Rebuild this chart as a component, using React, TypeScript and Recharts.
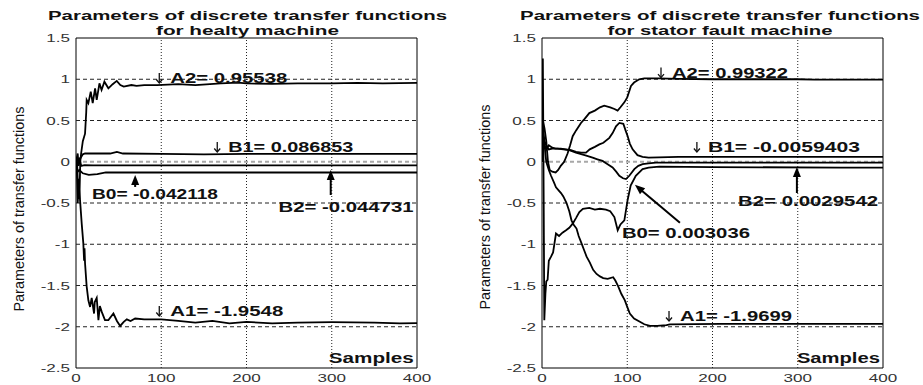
import React from "react";
import {
  LineChart,
  Line,
  XAxis,
  YAxis,
  ReferenceLine,
  ReferenceArea,
  ReferenceDot,
} from "recharts";

type Pt = [number, number];

const xTicks = [0, 100, 200, 300, 400];
const yTicks = [1.5, 1, 0.5, 0, -0.5, -1, -1.5, -2, -2.5];

// healthy machine: [sample, value]
const healthyA2: Pt[] = [
  [0, 0], [1, -0.1], [2, -0.5], [3, -0.3], [4, -0.45], [5, 0], [6, 0.1], [8, 0.25],
  [10.6, 0.34], [12, 0.6], [12.5, 0.75], [14.5, 0.71], [17.3, 0.85], [19.6, 0.71],
  [22.4, 0.89], [24.3, 0.75], [27.5, 0.95], [30, 0.87], [33.3, 0.97], [38, 0.89],
  [43, 0.94], [47.8, 0.98], [52, 0.93], [56, 0.91], [65, 0.93], [71, 0.92], [80, 0.93],
  [95, 0.93], [120, 0.94], [140, 0.93], [170, 0.95], [190, 0.96], [200, 0.95],
  [230, 0.945], [260, 0.95], [300, 0.95], [330, 0.955], [360, 0.95], [400, 0.955],
];
const healthyB1: Pt[] = [
  [0, 0], [2, 0.1], [3, -0.05], [5, 0.04], [8, 0.09], [10.6, 0.1], [20, 0.1], [40, 0.1],
  [48, 0.12], [55, 0.1], [100, 0.095], [150, 0.09], [200, 0.095], [300, 0.095], [400, 0.095],
];
const healthyB2: Pt[] = [
  [0, 0], [2, -0.03], [4, 0.05], [6, -0.05], [10, -0.04], [20, -0.045], [50, -0.045],
  [100, -0.045], [200, -0.045], [400, -0.045],
];
const healthyB0: Pt[] = [
  [0, 0], [2, -0.12], [4, -0.1], [8, -0.14], [15, -0.16], [25, -0.15], [35, -0.13],
  [100, -0.13], [200, -0.13], [400, -0.13],
];
const healthyA1: Pt[] = [
  [0, 0], [1, 0.05], [2, -0.2], [2.7, -0.22], [4.7, -0.46], [6.7, -0.75], [8.6, -0.99],
  [9.5, -1.2], [10, -1.05], [10.6, -1.23], [12.5, -1.51], [14.5, -1.68], [16.5, -1.76],
  [18.4, -1.65], [21.2, -1.84], [22, -1.7], [24.3, -1.65], [26.3, -1.92], [28, -1.75],
  [30.2, -1.82], [34, -1.92], [38, -1.92], [43.9, -1.84], [48, -1.93], [51.8, -1.99],
  [56, -1.94], [59.6, -1.91], [64, -1.93], [69.4, -1.9], [80, -1.91], [100, -1.91],
  [120, -1.93], [140, -1.95], [160, -1.93], [180, -1.96], [200, -1.94], [230, -1.96],
  [260, -1.95], [300, -1.945], [350, -1.95], [380, -1.96], [400, -1.955],
];

// stator fault machine: [sample, value]
const faultA2: Pt[] = [
  [0, 0], [1, 0.5], [3, 0.4], [5, 0.25], [7, 0], [9, -0.1], [12, -0.12], [16, -0.13],
  [19, -0.1], [22, -0.05], [26, 0], [30, 0.1], [33, 0.2], [36, 0.31], [40, 0.38],
  [45.7, 0.47], [50, 0.52], [55.5, 0.59], [62, 0.62], [68, 0.66], [73, 0.68], [80, 0.66],
  [85, 0.64], [88.7, 0.62], [92, 0.66], [96.6, 0.72], [100, 0.78], [104.4, 0.92],
  [108, 0.96], [114, 1.0], [120, 1.01], [137, 1.01], [160, 1.005], [200, 1.0],
  [300, 1.0], [320, 0.995], [400, 0.995],
];
const faultB1: Pt[] = [
  [0, 0], [1, 0.3], [3, 0.2], [5, 0.15], [8, 0.2], [12, 0.17], [16, 0.16], [22, 0.16],
  [28, 0.15], [34, 0.14], [40, 0.12], [46, 0.11], [51.6, 0.11], [56, 0.15], [62, 0.18],
  [67.3, 0.21], [72, 0.23], [79, 0.29], [83, 0.35], [86.8, 0.43], [90.7, 0.47],
  [95.4, 0.46], [98, 0.38], [100.5, 0.31], [103, 0.22], [106.3, 0.15], [112, 0.08],
  [118, 0.06], [125, 0.05], [160, 0.06], [200, 0.06], [300, 0.06], [400, 0.06],
];
const faultB2: Pt[] = [
  [0, 0], [1, 0.4], [3, 0.25], [5, 0.2], [8, 0.15], [12, 0.16], [18, 0.16], [25, 0.15],
  [32, 0.14], [39.8, 0.11], [50, 0.08], [59.4, 0.05], [65, 0.03], [71, 0.01], [77, -0.03],
  [82.8, -0.07], [87, -0.12], [90.7, -0.17], [95, -0.2], [98.5, -0.21], [102.4, -0.17],
  [108.3, -0.09], [113, -0.05], [118, -0.03], [125, -0.02], [133.7, -0.01], [200, -0.01],
  [300, -0.01], [400, -0.01],
];
const faultB0: Pt[] = [
  [0, 0], [1, 1.25], [2, -0.5], [2.7, -1.92], [4, -1.6], [5, -1.45], [6.6, -1.43],
  [8, -1.2], [10.6, -1.15], [13, -1.1], [16.4, -0.87], [20, -0.9], [24, -0.86],
  [28.2, -0.83], [32, -0.8], [36, -0.75], [40, -0.68], [43.8, -0.61], [48, -0.57],
  [55.5, -0.56], [62, -0.58], [68, -0.57], [75, -0.58], [80, -0.6], [84.9, -0.67],
  [88.8, -0.83], [92, -0.76], [96.6, -0.71], [100.5, -0.46], [104, -0.29], [110, -0.17],
  [118, -0.09], [125, -0.07], [137.6, -0.06], [200, -0.065], [350, -0.07], [400, -0.07],
];
const faultA1: Pt[] = [
  [0, 0], [1, 0.3], [3, 0.2], [5, 0], [8, -0.1], [10.6, -0.17], [14, -0.25], [16.4, -0.31],
  [19, -0.34], [22.3, -0.38], [25, -0.42], [28.8, -0.5], [32, -0.6], [34.6, -0.71],
  [37, -0.76], [40.5, -0.81], [43, -0.9], [46.4, -0.99], [49, -1.06], [52.3, -1.15],
  [56, -1.22], [60, -1.31], [64, -1.36], [68, -1.39], [71.8, -1.41], [77, -1.42],
  [83.5, -1.4], [86, -1.44], [89.4, -1.51], [93, -1.6], [97.2, -1.68], [100, -1.76],
  [103, -1.84], [108, -1.9], [114.8, -1.94], [120, -1.97], [126.6, -1.99], [135, -1.99],
  [146, -1.98], [150, -1.97], [210, -1.965], [300, -1.965], [400, -1.965],
];

const FONT = '"Liberation Sans", Arial, Helvetica, sans-serif';

function buildRows(series: Record<string, Pt[]>) {
  const map = new Map<number, Record<string, number>>();
  for (const [key, pts] of Object.entries(series)) {
    for (const [s, v] of pts) {
      const row = map.get(s) ?? { s };
      row[key] = v;
      map.set(s, row);
    }
  }
  return [...map.values()].sort((a, b) => a.s - b.s);
}

type Note = { s: number; v: number; text: string; len: number; down?: boolean };
type Arrow = { s: number; v: number; dx: number; dy: number };

const healthyNotes: Note[] = [
  { s: 93, v: 0.955, text: "A2= 0.95538", len: 132, down: true },
  { s: 161, v: 0.118, text: "B1= 0.086853", len: 140, down: true },
  { s: 18.8, v: -0.452, text: "B0= -0.042118", len: 126 },
  { s: 237.6, v: -0.61, text: "B2= -0.044731", len: 135 },
  { s: 93, v: -1.87, text: "A1= -1.9548", len: 128, down: true },
  { s: 296.5, v: -2.44, text: "Samples", len: 85 },
];
const healthyArrows: Arrow[] = [
  { s: 69.4, v: -0.16, dx: 0, dy: 12 },
  { s: 298.8, v: -0.1, dx: 0, dy: 25 },
];
const faultNotes: Note[] = [
  { s: 134.9, v: 1.02, text: "A2= 0.99322", len: 131, down: true },
  { s: 177, v: 0.118, text: "B1= -0.0059403", len: 167, down: true },
  { s: 230, v: -0.536, text: "B2= 0.0029542", len: 140 },
  { s: 93.8, v: -0.924, text: "B0= 0.003036", len: 128 },
  { s: 144.3, v: -1.93, text: "A1= -1.9699", len: 127, down: true },
  { s: 299, v: -2.44, text: "Samples", len: 83 },
];
const faultArrows: Arrow[] = [
  { s: 299, v: -0.064, dx: 0, dy: 26 },
  { s: 109, v: -0.28, dx: 45, dy: 38 },
];

function XTick({ x, y, payload }: any) {
  return (
    <g transform={`translate(${x},${y + 14}) scale(1.55,1)`}>
      <text textAnchor="middle" fontSize={11} fontFamily={FONT} fill="#333">
        {payload.value}
      </text>
    </g>
  );
}

function YTick({ x, y, payload }: any) {
  return (
    <g transform={`translate(${x - 6},${y + 4}) scale(1.55,1)`}>
      <text textAnchor="end" fontSize={11} fontFamily={FONT} fill="#333">
        {payload.value}
      </text>
    </g>
  );
}

function ArrowShape({ cx, cy, dx, dy }: any) {
  const ang = (Math.atan2(dy, dx) * 180) / Math.PI - 90;
  return (
    <g transform={`translate(${cx},${cy}) rotate(${ang})`}>
      <line x1={0} y1={6} x2={0} y2={Math.hypot(dx, dy)} stroke="#000" strokeWidth={2} />
      <polygon points="0,0 -4,10 4,10" fill="#000" />
    </g>
  );
}

// small down arrow in front of a label, like matlab's \downarrow
function NoteShape({ cx, cy, n }: any) {
  const off = n.down ? 15 : 0;
  return (
    <g>
      {n.down && (
        <g stroke="#111" strokeWidth={1.3} fill="none">
          <line x1={cx + 4} y1={cy - 10} x2={cx + 4} y2={cy} />
          <polyline points={`${cx + 1},${cy - 3.5} ${cx + 4},${cy} ${cx + 7},${cy - 3.5}`} />
        </g>
      )}
      <text
        x={cx + off}
        y={cy}
        textLength={n.len - off}
        lengthAdjust="spacingAndGlyphs"
        fontSize={14}
        fontWeight="bold"
        fontFamily={FONT}
        fill="#111"
      >
        {n.text}
      </text>
    </g>
  );
}

function Panel({ series, notes, arrows, mLeft, mRight }: any) {
  const rows = buildRows(series);
  const keys = Object.keys(series);
  const gridY = yTicks.filter((t) => t !== 0 && t !== 1.5 && t !== -2.5);
  const gridX = xTicks.filter((t) => t !== 0 && t !== 400);
  return (
    <LineChart
      width={mLeft + 40 + 341 + mRight}
      height={385}
      data={rows}
      margin={{ top: 38, left: mLeft, right: mRight, bottom: 0 }}
    >
      <XAxis
        dataKey="s"
        type="number"
        domain={[0, 400]}
        ticks={xTicks}
        height={17}
        axisLine={false}
        tickLine={false}
        tickSize={0}
        tickMargin={0}
        tick={XTick}
        allowDataOverflow
      />
      <YAxis
        type="number"
        domain={[-2.5, 1.5]}
        ticks={yTicks}
        width={40}
        axisLine={false}
        tickLine={false}
        tickSize={0}
        tickMargin={0}
        tick={YTick}
        allowDataOverflow
      />
      {gridY.map((t) => (
        <ReferenceLine key={"y" + t} y={t} stroke="#222" strokeDasharray="4 3" />
      ))}
      {gridX.map((t) => (
        <ReferenceLine key={"x" + t} x={t} stroke="#222" strokeDasharray="1 2" />
      ))}
      <ReferenceLine y={0} stroke="#a8a8a8" strokeWidth={2} strokeDasharray="4 3" />
      {keys.map((k) => (
        <Line
          key={k}
          dataKey={k}
          type="linear"
          stroke="#000"
          strokeWidth={1.8}
          dot={false}
          connectNulls
          isAnimationActive={false}
        />
      ))}
      <ReferenceArea
        x1={0}
        x2={400}
        y1={-2.5}
        y2={1.5}
        fill="none"
        fillOpacity={0}
        stroke="#000"
        strokeWidth={1}
      />
      {notes.map((n: Note) => (
        <ReferenceDot
          key={n.text}
          x={n.s}
          y={n.v}
          r={0}
          shape={(p: any) => <NoteShape cx={p.cx} cy={p.cy} n={n} />}
        />
      ))}
      {arrows.map((a: Arrow, i: number) => (
        <ReferenceDot
          key={"a" + i}
          x={a.s}
          y={a.v}
          r={0}
          shape={(p: any) => <ArrowShape cx={p.cx} cy={p.cy} dx={a.dx} dy={a.dy} />}
        />
      ))}
    </LineChart>
  );
}

function Title({ cx, lines }: { cx: number; lines: [string, number][] }) {
  return (
    <>
      {lines.map(([t, len], i) => (
        <text
          key={t}
          x={cx}
          y={20 + i * 14.5}
          textAnchor="middle"
          textLength={len}
          lengthAdjust="spacingAndGlyphs"
          fontSize={13}
          fontWeight="bold"
          fontFamily={FONT}
          fill="#111"
        >
          {t}
        </text>
      ))}
    </>
  );
}

function YLabel({ x, y }: { x: number; y: number }) {
  return (
    <text
      transform={`translate(${x},${y}) rotate(-90)`}
      textAnchor="middle"
      textLength={205}
      lengthAdjust="spacingAndGlyphs"
      fontSize={14}
      fontFamily={FONT}
      fill="#111"
    >
      Parameters of transfer functions
    </text>
  );
}

export default function App() {
  return (
    <div
      style={{
        position: "absolute",
        left: 0,
        top: 0,
        width: 923,
        height: 385,
        background: "#fff",
        overflow: "hidden",
      }}
    >
      <div style={{ position: "absolute", left: 0, top: 0 }}>
        <Panel
          series={{ A2: healthyA2, B1: healthyB1, B2: healthyB2, B0: healthyB0, A1: healthyA1 }}
          notes={healthyNotes}
          arrows={healthyArrows}
          mLeft={36}
          mRight={43}
        />
      </div>
      <div style={{ position: "absolute", left: 460, top: 0 }}>
        <Panel
          series={{ A2: faultA2, B1: faultB1, B2: faultB2, B0: faultB0, A1: faultA1 }}
          notes={faultNotes}
          arrows={faultArrows}
          mLeft={42}
          mRight={40}
        />
      </div>
      <svg
        width={923}
        height={385}
        style={{ position: "absolute", left: 0, top: 0, pointerEvents: "none" }}
      >
        <Title
          cx={247.5}
          lines={[
            ["Parameters of discrete transfer functions", 399],
            ["for healty machine", 183],
          ]}
        />
        <Title
          cx={720}
          lines={[
            ["Parameters of discrete transfer functions", 400],
            ["for stator fault machine", 225],
          ]}
        />
        <YLabel x={24} y={209} />
        <YLabel x={490} y={207} />
      </svg>
    </div>
  );
}
